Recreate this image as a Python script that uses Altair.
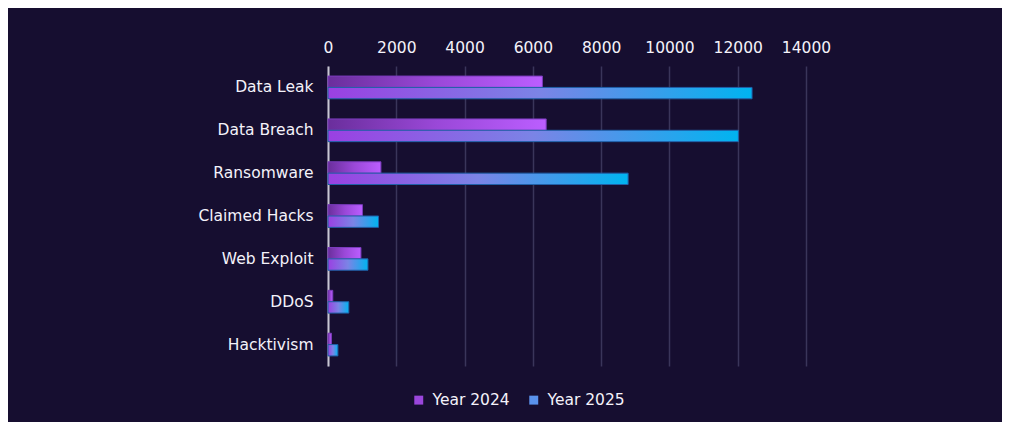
import altair as alt
import pandas as pd

categories = ["Data Leak", "Data Breach", "Ransomware", "Claimed Hacks", "Web Exploit", "DDoS", "Hacktivism"]
year_2024 = [6280, 6390, 1550, 1010, 965, 140, 100]
year_2025 = [12420, 12020, 8790, 1480, 1170, 610, 290]
series = ["Year 2024", "Year 2025"]
x_ticks = [0, 2000, 4000, 6000, 8000, 10000, 12000, 14000]

rows = []
for c, a, b in zip(categories, year_2024, year_2025):
    rows.append({"category": c, "series": series[0], "value": a})
    rows.append({"category": c, "series": series[1], "value": b})
df = pd.DataFrame(rows)

BG = "#160e30"
FONT = "DejaVu Sans"
TXT = "#f4f2fa"

grad24 = alt.Gradient(
    gradient="linear", x1=0, x2=1, y1=0, y2=0,
    stops=[alt.GradientStop(color="#6a2e9c", offset=0),
           alt.GradientStop(color="#9a48d8", offset=0.5),
           alt.GradientStop(color="#bb5eff", offset=1)],
)
grad25 = alt.Gradient(
    gradient="linear", x1=0, x2=1, y1=0, y2=0,
    stops=[alt.GradientStop(color="#9a40e2", offset=0),
           alt.GradientStop(color="#7b84e6", offset=0.5),
           alt.GradientStop(color="#00b4f0", offset=1)],
)

y_enc = alt.Y("category:N", sort=categories, title=None,
              scale=alt.Scale(paddingInner=0.47, paddingOuter=0.235),
              axis=alt.Axis(labelColor=TXT, labelFontSize=15.5, labelFont=FONT,
                            labelPadding=15, ticks=False, domain=True,
                            domainColor="#c8c6d2", domainWidth=2, grid=False))
x_enc = alt.X("value:Q", title=None,
              scale=alt.Scale(domain=[0, 14000], nice=False),
              axis=alt.Axis(orient="top", values=x_ticks, format="d", labelOverlap=False,
                            labelFlush=False,
                            labelColor=TXT, labelFontSize=15.5, labelFont=FONT,
                            labelPadding=11,
                            ticks=False, domain=False, grid=True,
                            gridColor="#3a355a", gridWidth=1.5))
yoff = alt.YOffset("series:N", scale=alt.Scale(domain=series, paddingInner=0, paddingOuter=0))

base = alt.Chart(df)

bars24 = base.transform_filter(alt.datum.series == series[0]).mark_bar(
    fill=grad24, stroke="#7a3cbc", strokeWidth=1
).encode(x=x_enc, y=y_enc, yOffset=yoff)

bars25 = base.transform_filter(alt.datum.series == series[1]).mark_bar(
    fill=grad25, stroke="#2060a8", strokeWidth=1
).encode(x=x_enc, y=y_enc, yOffset=yoff)

legend_layer = base.mark_square(opacity=0, size=1).encode(
    x=x_enc, y=y_enc,
    color=alt.Color("series:N", scale=alt.Scale(domain=series, range=["#9a46dc", "#5a92ec"]),
                    legend=alt.Legend(title=None, orient="none", direction="horizontal",
                                      legendX=83, legendY=326,
                                      symbolType="square", symbolSize=80, symbolOpacity=1,
                                      labelColor=TXT, labelFontSize=15.5, labelFont=FONT,
                                      columnPadding=16, labelOffset=6)),
)

chart = alt.layer(bars24, bars25, legend_layer).properties(
    width=478, height=300, background=BG,
    padding={"left": 320, "top": 58, "right": 196, "bottom": 56},
    autosize=alt.AutoSizeParams(type="none"),
).configure_view(stroke=None)

chart.save("out.html", embed_options={"renderer": "svg", "actions": False})
